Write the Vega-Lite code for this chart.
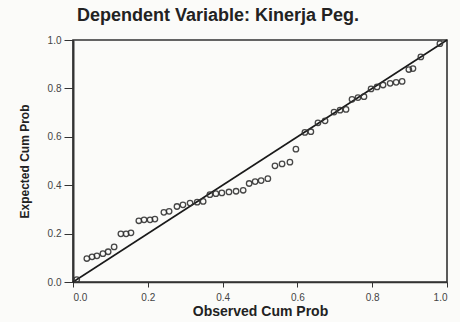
{
  "$schema": "https://vega.github.io/schema/vega-lite/v6.json",
  "autosize": {"type": "none"},
  "width": 374,
  "height": 242,
  "padding": {"left": 73, "top": 40, "right": 13, "bottom": 40},
  "background": "#fbfbf9",
  "config": {
    "view": {"stroke": "#333333", "strokeWidth": 1.6},
    "font": "Liberation Sans"
  },
  "title": {
    "text": "Dependent Variable: Kinerja Peg.",
    "anchor": "middle",
    "dx": -42,
    "offset": 10,
    "fontSize": 18,
    "fontWeight": "bold",
    "color": "#222222"
  },
  "datasets": {
    "pts": [
      {"obs": 0.01, "exp": 0.01},
      {"obs": 0.037, "exp": 0.097},
      {"obs": 0.051, "exp": 0.104},
      {"obs": 0.064, "exp": 0.108},
      {"obs": 0.080, "exp": 0.117},
      {"obs": 0.094, "exp": 0.125},
      {"obs": 0.110, "exp": 0.145},
      {"obs": 0.128, "exp": 0.199},
      {"obs": 0.142, "exp": 0.199},
      {"obs": 0.155, "exp": 0.203},
      {"obs": 0.176, "exp": 0.253},
      {"obs": 0.190, "exp": 0.257},
      {"obs": 0.206, "exp": 0.257},
      {"obs": 0.219, "exp": 0.260},
      {"obs": 0.243, "exp": 0.288},
      {"obs": 0.257, "exp": 0.292},
      {"obs": 0.278, "exp": 0.312},
      {"obs": 0.294, "exp": 0.319},
      {"obs": 0.313, "exp": 0.326},
      {"obs": 0.332, "exp": 0.330},
      {"obs": 0.348, "exp": 0.333},
      {"obs": 0.366, "exp": 0.361},
      {"obs": 0.382, "exp": 0.365},
      {"obs": 0.398, "exp": 0.368},
      {"obs": 0.417, "exp": 0.372},
      {"obs": 0.436, "exp": 0.375},
      {"obs": 0.455, "exp": 0.379},
      {"obs": 0.471, "exp": 0.407},
      {"obs": 0.487, "exp": 0.415},
      {"obs": 0.503, "exp": 0.419},
      {"obs": 0.521, "exp": 0.427},
      {"obs": 0.540, "exp": 0.480},
      {"obs": 0.559, "exp": 0.488},
      {"obs": 0.580, "exp": 0.495},
      {"obs": 0.596, "exp": 0.549},
      {"obs": 0.620, "exp": 0.618},
      {"obs": 0.636, "exp": 0.621},
      {"obs": 0.655, "exp": 0.658},
      {"obs": 0.674, "exp": 0.666},
      {"obs": 0.698, "exp": 0.702},
      {"obs": 0.714, "exp": 0.710},
      {"obs": 0.730, "exp": 0.713},
      {"obs": 0.746, "exp": 0.755},
      {"obs": 0.762, "exp": 0.762},
      {"obs": 0.778, "exp": 0.766},
      {"obs": 0.797, "exp": 0.798},
      {"obs": 0.813, "exp": 0.806},
      {"obs": 0.829, "exp": 0.814},
      {"obs": 0.848, "exp": 0.821},
      {"obs": 0.864, "exp": 0.825},
      {"obs": 0.880, "exp": 0.829},
      {"obs": 0.898, "exp": 0.878},
      {"obs": 0.909, "exp": 0.882},
      {"obs": 0.930, "exp": 0.930},
      {"obs": 0.981, "exp": 0.985}
    ],
    "ref": [
      {"obs": 0, "exp": 0},
      {"obs": 1, "exp": 1}
    ]
  },
  "layer": [
    {
      "data": {"name": "ref"},
      "mark": {"type": "line", "color": "#1a1a1a", "strokeWidth": 1.6},
      "encoding": {
        "x": {"field": "obs", "type": "quantitative"},
        "y": {"field": "exp", "type": "quantitative"}
      }
    },
    {
      "data": {"name": "pts"},
      "mark": {"type": "point", "shape": "circle", "filled": false, "size": 30, "stroke": "#333333", "strokeWidth": 1.3, "opacity": 0.9},
      "encoding": {
        "x": {
          "field": "obs", "type": "quantitative",
          "scale": {"domain": [0, 1], "nice": false},
          "axis": {
            "title": "Observed Cum Prob",
            "titleFontSize": 14,
            "titleFontWeight": "bold",
            "titleColor": "#222222",
            "titlePadding": 2,
            "values": [0, 0.2, 0.4, 0.6, 0.8, 1.0],
            "format": ".1f",
            "labelFontSize": 10,
            "labelColor": "#444444",
            "labelPadding": 5,
            "tickSize": 5,
            "tickColor": "#333333",
            "domainColor": "#333333",
            "domainWidth": 1.6,
            "grid": false
          }
        },
        "y": {
          "field": "exp", "type": "quantitative",
          "scale": {"domain": [0, 1], "nice": false},
          "axis": {
            "title": "Expected Cum Prob",
            "titleFontSize": 12,
            "titleFontWeight": "bold",
            "titleColor": "#222222",
            "titlePadding": 16,
            "values": [0, 0.2, 0.4, 0.6, 0.8, 1.0],
            "format": ".1f",
            "labelFontSize": 10,
            "labelColor": "#444444",
            "labelPadding": 3,
            "tickSize": 9,
            "tickColor": "#333333",
            "domainColor": "#333333",
            "domainWidth": 2,
            "grid": false
          }
        }
      }
    }
  ]
}
